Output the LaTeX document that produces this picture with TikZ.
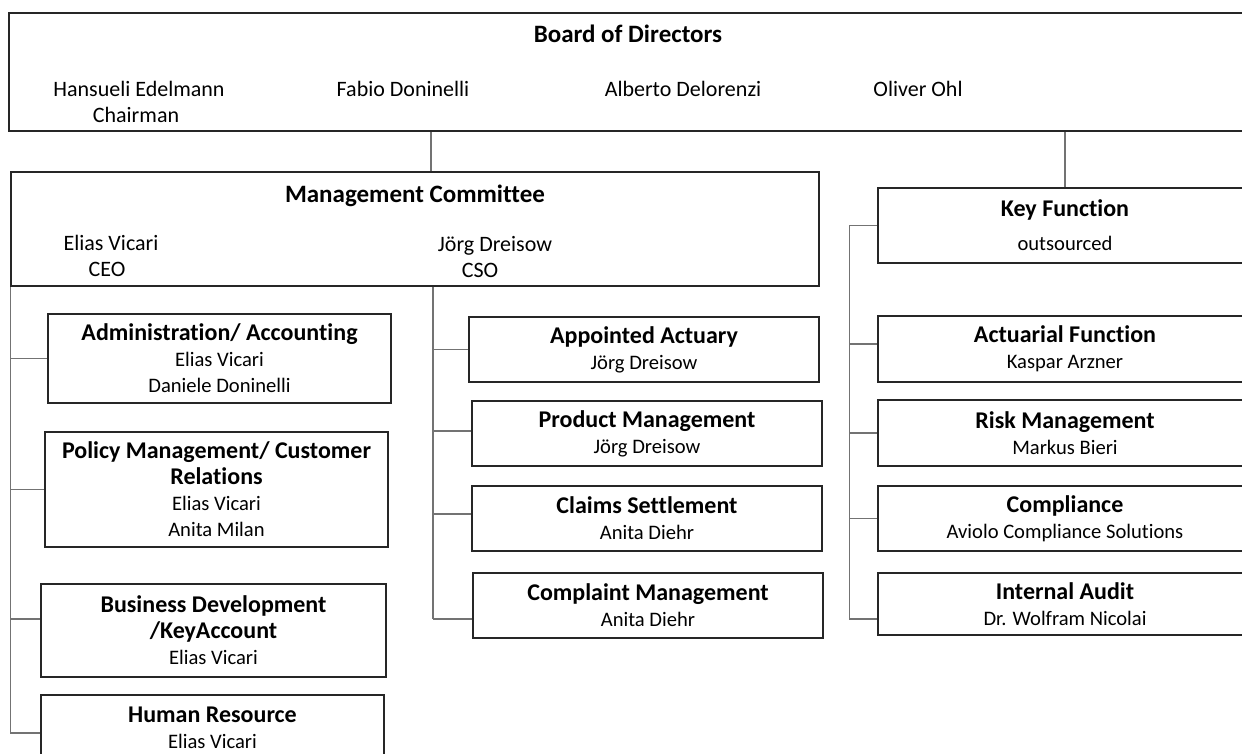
\documentclass[tikz,border=0pt]{standalone}
\usepackage{fontspec}
\setmainfont{Carlito}[Ligatures=NoCommon]
\usetikzlibrary{positioning}

\newcommand{\unitname}[1]{{\bfseries\fontsize{12}{14}\selectfont #1}}

\begin{document}
\begin{tikzpicture}[
    x=0.5pt, y=-0.5pt,
    unit/.style={rectangle, draw=black!85, line width=0.8pt, inner sep=0pt, align=center, font=\fontsize{10.3}{13}\selectfont},
    head/.style={anchor=base, inner sep=0pt, font=\bfseries\fontsize{12.5}{15}\selectfont},
    member/.style={anchor=base, inner sep=0pt, font=\fontsize{11}{13.5}\selectfont},
    link/.style={draw=black!55, line width=0.6pt}
]

% Page frame
\useasboundingbox (0,0) rectangle (1242,754);

% Board of Directors
\node[unit, minimum width=621.5pt, minimum height=59pt] (board) at (630.5,72) {};
\node[head] (board_title) at (628,43) {Board of Directors};
\node[member] (edelmann) at (139,97) {Hansueli Edelmann};
\node[member] (chairman) at (136,123) {Chairman};
\node[member] (doninelli) at (403,97) {Fabio Doninelli};
\node[member] (delorenzi) at (683,97) {Alberto Delorenzi};
\node[member] (ohl) at (918,97) {Oliver Ohl};

% Management Committee
\node[unit, minimum width=404pt, minimum height=57pt] (mgmt) at (415,229) {};
\node[head] (mgmt_title) at (415,203) {Management Committee};
\node[member] (vicari) at (111,251) {Elias Vicari};
\node[member] (ceo) at (107,277) {CEO};
\node[member] (dreisow) at (495,252) {Jörg Dreisow};
\node[member] (cso) at (480,278) {CSO};

% Left column
\node[unit, minimum width=171.5pt, minimum height=44.5pt] (admin) at (219.5,358.5)
    {\unitname{Administration/ Accounting}\\Elias Vicari\\Daniele Doninelli};
\node[unit, minimum width=171.5pt, minimum height=57.5pt] (policy) at (216.5,489.5)
    {\unitname{Policy Management/ Customer}\\\unitname{Relations}\\Elias Vicari\\Anita Milan};
\node[unit, minimum width=172.5pt, minimum height=46.5pt] (busdev) at (213.5,630.5)
    {\unitname{Business Development}\\\unitname{/KeyAccount}\\Elias Vicari};
\node[unit, minimum width=171.5pt, minimum height=32.5pt] (hr) at (212.5,727.5)
    {\unitname{Human Resource}\\Elias Vicari};

% Middle column
\node[unit, minimum width=175pt, minimum height=32.5pt] (actuary) at (644,349.5)
    {\unitname{Appointed Actuary}\\Jörg Dreisow};
\node[unit, minimum width=175pt, minimum height=32.5pt] (product) at (647,433.5)
    {\unitname{Product Management}\\Jörg Dreisow};
\node[unit, minimum width=175pt, minimum height=32.5pt] (claims) at (647,518.5)
    {\unitname{Claims Settlement}\\Anita Diehr};
\node[unit, minimum width=175pt, minimum height=32.5pt] (complaint) at (648,605.5)
    {\unitname{Complaint Management}\\Anita Diehr};

% Right column (key functions)
\node[unit, minimum width=187pt, minimum height=37.5pt] (key) at (1065,225.5)
    {\unitname{Key Function}\\[4pt]outsourced};
\node[unit, minimum width=187pt, minimum height=33pt] (actuarial) at (1065,349)
    {\unitname{Actuarial Function}\\Kaspar Arzner};
\node[unit, minimum width=187pt, minimum height=33pt] (risk) at (1065,433)
    {\unitname{Risk Management}\\Markus Bieri};
\node[unit, minimum width=187pt, minimum height=32.5pt] (compliance) at (1065,518.5)
    {\unitname{Compliance}\\Aviolo Compliance Solutions};
\node[unit, minimum width=187pt, minimum height=31pt] (audit) at (1065,604)
    {\unitname{Internal Audit}\\Dr. Wolfram Nicolai};

% Board to committees
\draw[link] ([xshift=8pt]mgmt.north) -- ([xshift=8pt]mgmt.north |- board.south);
\draw[link] (key.north) -- (key.north |- board.south);

% Left spine
\draw[link] (mgmt.south west) -- ([yshift=-2.75pt]mgmt.south west |- hr.west);
\draw[link] (mgmt.south west |- admin.west) -- (admin.west);
\draw[link] (mgmt.south west |- policy.west) -- (policy.west);
\draw[link] ([yshift=5.75pt]mgmt.south west |- busdev.west) -- ([yshift=5.75pt]busdev.west);
\draw[link] ([yshift=-2.75pt]mgmt.south west |- hr.west) -- ([yshift=-2.75pt]hr.west);

% Middle spine
\draw[link] ([xshift=9pt]mgmt.south) -- ([xshift=9pt,yshift=-6.75pt]mgmt.south |- complaint.west);
\draw[link] ([xshift=9pt]mgmt.south |- actuary.west) -- (actuary.west);
\draw[link] ([xshift=9pt,yshift=1.25pt]mgmt.south |- product.west) -- ([yshift=1.25pt]product.west);
\draw[link] ([xshift=9pt,yshift=2.25pt]mgmt.south |- claims.west) -- ([yshift=2.25pt]claims.west);
\draw[link] ([xshift=9pt,yshift=-6.75pt]mgmt.south |- complaint.west) -- ([yshift=-6.75pt]complaint.west);

% Right spine
\draw[link] ([xshift=-14pt]key.west) -- ([xshift=-14pt,yshift=-7.5pt]audit.west);
\draw[link] ([xshift=-14pt]key.west) -- (key.west);
\draw[link] ([xshift=-14pt,yshift=2.5pt]actuarial.west) -- ([yshift=2.5pt]actuarial.west);
\draw[link] ([xshift=-14pt]risk.west) -- (risk.west);
\draw[link] ([xshift=-14pt]compliance.west) -- (compliance.west);
\draw[link] ([xshift=-14pt,yshift=-7.5pt]audit.west) -- ([yshift=-7.5pt]audit.west);

\end{tikzpicture}
\end{document}
